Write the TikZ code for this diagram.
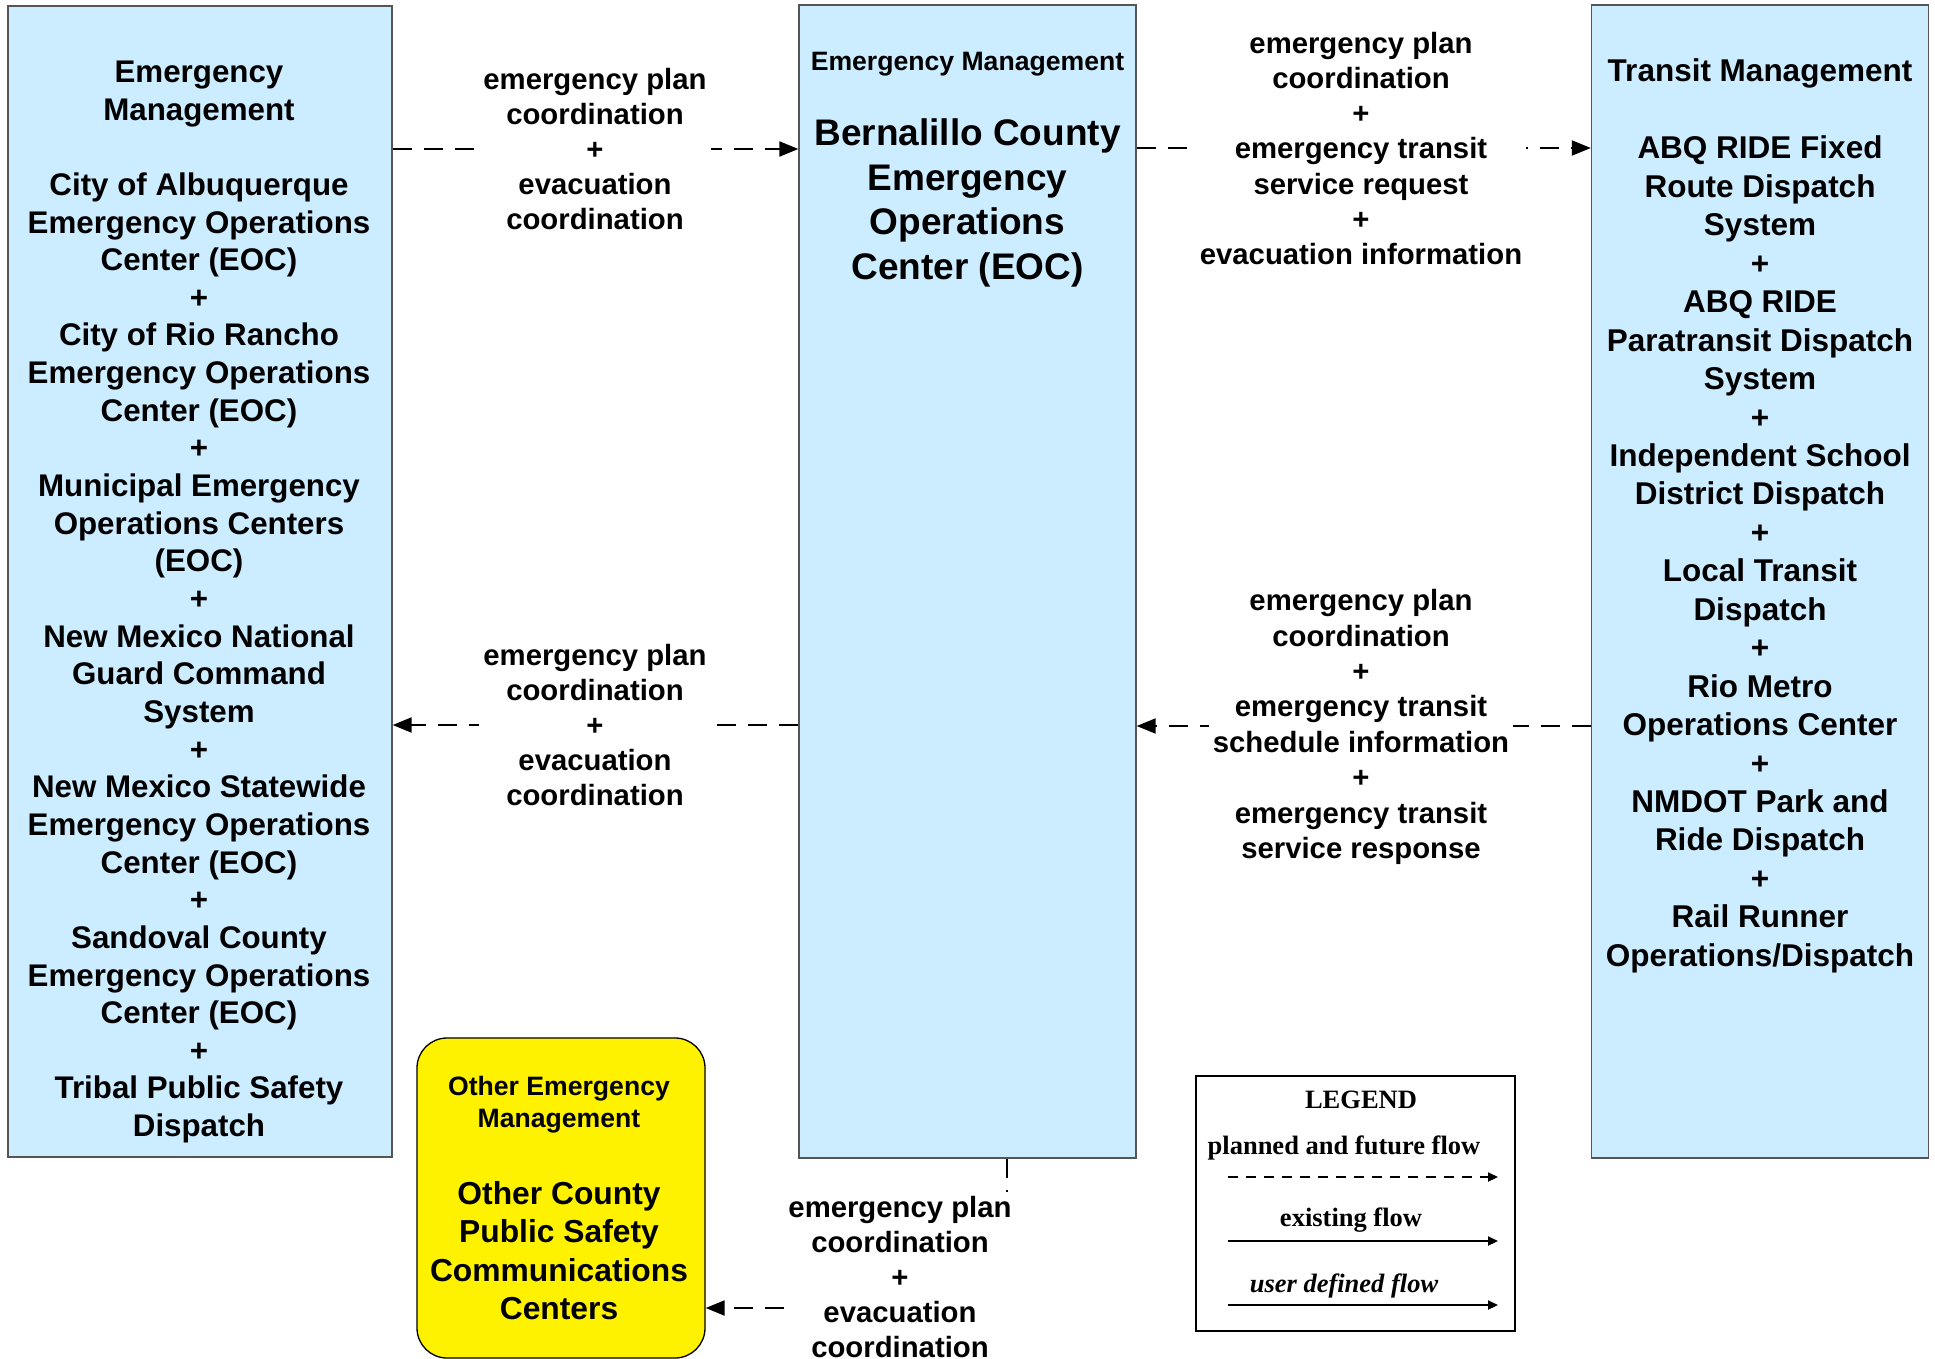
\documentclass[tikz,border=0pt]{standalone}
\usepackage{fontspec}
\setmainfont{Liberation Sans}
\newfontfamily\legfont{Liberation Serif}
\usetikzlibrary{arrows.meta}
\definecolor{boxblue}{HTML}{CCECFF}
\definecolor{boxgray}{HTML}{555555}
\tikzset{
  bluebox/.style={draw=boxgray, line width=1.3pt, fill=boxblue, inner sep=0pt},
  yelbox/.style={draw=black, line width=1.3pt, fill=yellow, rounded corners=30pt, inner sep=0pt},
  legbox/.style={draw=black, line width=1.3pt, fill=white, inner sep=0pt},
  boxtext/.style={align=center, inner sep=0pt, font=\fontsize{31.3}{37.65}\selectfont\bfseries},
  rtext/.style={align=center, inner sep=0pt, font=\fontsize{31.5}{38.45}\selectfont\bfseries},
  smalltitle/.style={align=center, inner sep=0pt, font=\fontsize{26.6}{32}\selectfont\bfseries},
  bigtitle/.style={align=center, inner sep=0pt, font=\fontsize{37}{44.8}\selectfont\bfseries},
  ytext/.style={align=center, inner sep=0pt, font=\fontsize{31.8}{38.3}\selectfont\bfseries},
  flowlabel/.style={align=center, fill=white, inner sep=4pt, font=\fontsize{29.3}{35.2}\selectfont\bfseries},
  flow/.style={line width=2pt, dash pattern=on 19pt off 12pt, -{Triangle[length=19pt,width=15pt]}},
  legtext/.style={inner sep=0pt, font=\fontsize{26.5}{30}\selectfont\legfont\bfseries},
  legline/.style={line width=2pt, -{Triangle[length=10pt,width=9pt]}},
}
\begin{document}
\begin{tikzpicture}[x=1pt, y=-1pt]
\useasboundingbox (0,0) rectangle (1935,1359);
\fill[white] (0,0) rectangle (1935,1359);
% boxes
\node[bluebox, minimum width=384pt, minimum height=1151pt] (lbox) at (200,581.5) {};
\node[bluebox, minimum width=337pt, minimum height=1153pt] (cbox) at (967.5,581.5) {};
\node[bluebox, minimum width=337pt, minimum height=1153pt] (rbox) at (1760,581.5) {};
\node[yelbox, minimum width=288pt, minimum height=320pt] (ybox) at (561,1198) {};
\node[legbox, minimum width=319pt, minimum height=255pt] (legend) at (1355.5,1203.5) {};
% box texts
\node[boxtext] (ltxt) at (199,602) {Emergency\\Management\\[37.65pt]City of Albuquerque\\Emergency Operations\\Center (EOC)\\+\\City of Rio Rancho\\Emergency Operations\\Center (EOC)\\+\\Municipal Emergency\\Operations Centers\\(EOC)\\+\\New Mexico National\\Guard Command\\System\\+\\New Mexico Statewide\\Emergency Operations\\Center (EOC)\\+\\Sandoval County\\Emergency Operations\\Center (EOC)\\+\\Tribal Public Safety\\Dispatch};
\node[smalltitle] (ctitle) at (967.5,64.5) {Emergency Management};
\node[bigtitle] (cname) at (967.5,203) {Bernalillo County\\Emergency\\Operations\\Center (EOC)};
\node[rtext] (rtxt) at (1760,516) {Transit Management\\[38.45pt]ABQ RIDE Fixed\\Route Dispatch\\System\\+\\ABQ RIDE\\Paratransit Dispatch\\System\\+\\Independent School\\District Dispatch\\+\\Local Transit\\Dispatch\\+\\Rio Metro\\Operations Center\\+\\NMDOT Park and\\Ride Dispatch\\+\\Rail Runner\\Operations/Dispatch};
\node[smalltitle] (ytitle) at (559,1104.5) {Other Emergency\\Management};
\node[ytext] (yname) at (559,1250.5) {Other County\\Public Safety\\Communications\\Centers};
% connectors
\coordinate (ya) at (0,149);
\coordinate (yb) at (0,148);
\coordinate (yc) at (0,726);
\coordinate (yd) at (0,725);
\coordinate (ye) at (0,1308);
\coordinate (xe) at (1007,0);
\draw[flow] (lbox.east |- ya) -- (cbox.west |- ya);
\draw[flow] (cbox.east |- yb) -- (rbox.west |- yb);
\draw[flow] (rbox.west |- yc) -- (cbox.east |- yc);
\draw[flow] (cbox.west |- yd) -- (lbox.east |- yd);
\draw[flow] (cbox.south -| xe) |- (ybox.east |- ye);
% flow labels
\node[flowlabel] (l1) at (595,149) {emergency plan\\coordination\\+\\evacuation\\coordination};
\node[flowlabel] (l2) at (1361,148.5) {emergency plan\\coordination\\+\\emergency transit\\service request\\+\\evacuation information};
\node[flowlabel] (l3) at (595,725) {emergency plan\\coordination\\+\\evacuation\\coordination};
\node[flowlabel, font=\fontsize{29.3}{35.4}\selectfont\bfseries] (l4) at (1361,727) {emergency plan\\coordination\\+\\emergency transit\\schedule information\\+\\emergency transit\\service response};
\node[flowlabel] (l5) at (900,1277) {emergency plan\\coordination\\+\\evacuation\\coordination};
% legend
\node[legtext] (legt) at (1361,1100) {LEGEND};
\node[legtext] (leg1) at (1344,1148) {planned and future flow};
\node[legtext] (leg2) at (1351,1220) {existing flow};
\node[legtext, font=\fontsize{26.5}{30}\selectfont\legfont\bfseries\itshape] (leg3) at (1344,1286) {user defined flow};
\coordinate (la1) at (1228,1177);
\coordinate (lb1) at (1498,1177);
\coordinate (la2) at (1228,1241);
\coordinate (lb2) at (1498,1241);
\coordinate (la3) at (1228,1305);
\coordinate (lb3) at (1498,1305);
\draw[legline, dash pattern=on 10pt off 8pt] (la1) -- (lb1);
\draw[legline] (la2) -- (lb2);
\draw[legline] (la3) -- (lb3);
\end{tikzpicture}
\end{document}
